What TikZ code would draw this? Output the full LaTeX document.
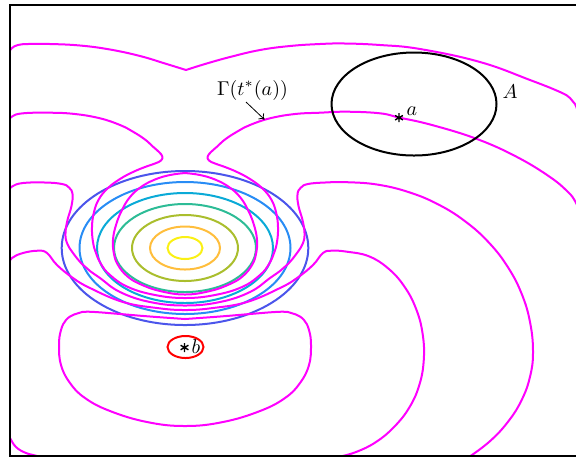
\documentclass[tikz,border=0pt]{standalone}
\usetikzlibrary{arrows.meta}
\definecolor{cyel}{RGB}{250,240,20}
\definecolor{cora}{RGB}{255,190,60}
\definecolor{coli}{RGB}{170,190,45}
\definecolor{ctea}{RGB}{45,188,150}
\definecolor{ccya}{RGB}{10,170,215}
\definecolor{cdod}{RGB}{40,140,245}
\definecolor{cind}{RGB}{75,85,235}
\definecolor{cmag}{RGB}{255,0,255}
\tikzset{
  front/.style={draw=cmag, line width=1pt, line join=round},
  lev/.style={line width=1pt},
  sm/.style={smooth, tension=0.7},
}
\newcommand{\starat}[1]{%
  \draw[line width=0.7pt] ([shift={(0,-4.5)}]#1) -- ([shift={(0,4.5)}]#1)
    ([shift={(3.9,2.25)}]#1) -- ([shift={(-3.9,-2.25)}]#1)
    ([shift={(-3.9,2.25)}]#1) -- ([shift={(3.9,-2.25)}]#1);}
\begin{document}
\begin{tikzpicture}[x=0.5pt,y=-0.5pt]
\useasboundingbox (0,0) rectangle (576,457);
\begin{scope}
\clip (10,5) rectangle (576,456);
% level ellipses
\draw[lev,cind] (185,248) ellipse [x radius=123.3, y radius=77];
\draw[lev,cdod] (185,248) ellipse [x radius=105.5, y radius=66];
\draw[lev,ccya] (185,248) ellipse [x radius=88, y radius=55];
\draw[lev,ctea] (185,248) ellipse [x radius=71, y radius=44];
\draw[lev,coli] (185,248) ellipse [x radius=53, y radius=33];
\draw[lev,cora] (185,248) ellipse [x radius=35, y radius=21.5];
\draw[lev,cyel] (185,248) ellipse [x radius=17.5, y radius=11];
% fronts
\draw[front] plot[sm] coordinates {(8,53) (12,48) (18,45) (28,44) (50,44) (80,45.5) (110,49.5) (140,56) (165,63.5) (186,70)};
\draw[front] plot[sm] coordinates {(186,70) (205,64) (230,57) (260,50) (290,46) (320,44) (345,43.5) (380,45) (420,49) (480,62) (530,80) (560,92) (570,98) (575,104) (578,112)};
\draw[front] plot[sm] coordinates {(185,173) (200,175) (215,179.5) (229,187) (240,197) (248,210) (254,225) (257,240) (256,254) (252,265) (243,276) (230,284) (210,291) (185,294.5) (160,291) (140,284) (127,276) (118,265) (114,254) (113,240) (116,225) (122,210) (130,197) (141,187) (155,179.5) (170,175) (185,173)};
\draw[front] plot[sm] coordinates {(8,122) (12,116.5) (23,113.3) (50,112.7) (75,114) (100,118.3) (120,125) (133,131.7) (145,139.5) (153,146.7) (159,152) (162.3,156.5) (161,160.5) (155,163.5) (145,167) (133,172) (120,179) (108,188) (99,199) (94,212) (92,227) (93,242) (96,253) (101,264) (110,275) (128,287) (155,295) (185,298) (215,295) (242,287) (260,275) (269,264) (274,253) (277,242) (278,227) (276,212) (271,199) (262,188) (250,179) (237,172) (225,167) (215,163.5) (209,160.5) (207.7,156.5) (211,152) (217,146.7) (225,139.5) (237,131.7) (250,125) (270,118.3) (295,114) (320,112.7) (347,111.7) (380,113.3) (399,117.5) (432,125) (477,139) (517,157) (550,177) (568,192) (575,201) (579,210)};
\draw[front] plot[sm] coordinates {(8,192) (12,186.5) (23,183) (45,182.5) (62,184) (69,187.5) (72.5,194) (71.5,206) (67.5,220) (65.5,233) (67,243) (73,253) (82,264) (90,271) (100,278) (120,292) (150,302) (185,305.5) (220,302) (250,292) (270,278) (280,271) (288,264) (297,253) (303,243) (304.5,233) (302.5,220) (298.5,206) (297.5,194) (301,187.5) (308,184) (325,182.5) (347,182.2) (377.6,184.6) (409.3,192.3) (439,204.8) (465.8,221.8) (489,242.7) (507.8,267) (521.7,293.9) (530.1,322.5) (533,352) (530.1,376.3) (521.7,399.9) (507.8,422) (489,442) (465.8,459.2)};
\draw[front] plot[sm] coordinates {(8,265) (12,258) (23,253) (38,250.7) (47,253) (57,265) (73,278) (90,288) (123,302) (157,308) (185,310) (213,308) (247,302) (280,288) (297,278) (313,265) (323,253) (332,250.7) (347,251.7) (368.7,256.2) (388.2,268.4) (404.3,286.4) (416.1,308.9) (422.7,334.3) (423.7,360.9) (419,386) (409,408) (394,427) (376,442) (356,452) (336.7,457.5) (325,461)};
\draw[front] plot[sm] coordinates {(5,430) (10,438) (16,447) (26,453) (37,456) (45,460)};
\draw[front] plot[sm] coordinates {(185,319) (150,316.5) (120,314) (95,312) (82,312) (74,314.5) (66,320) (61,330) (59,345) (61,365) (70,383) (85,398) (110,411) (147,422) (185,426) (223,422) (260,411) (285,398) (300,383) (309,365) (311,345) (309,330) (304,320) (296,314.5) (288,312) (275,312) (250,314) (220,316.5) (185,319)};
% red front around b
\draw[line width=1pt, red] (185.5,347) ellipse [x radius=18, y radius=11];
% set A
\draw[line width=1pt, black] (414,104) ellipse [x radius=82.5, y radius=51.5];
\end{scope}
\draw[line width=0.8pt] (10,5) rectangle (590,456);
% labels and markers
\coordinate (sa) at (399,117.7);
\coordinate (sb) at (184.5,347.5);
\starat{sa}
\starat{sb}
\node (la) at (412,111.5) {$a$};
\node (lA) at (510,92) {$A$};
\node (lb) at (196,346.5) {$b$};
\node (lg) at (252.5,90) {$\Gamma(t^{*}(a))$};
\coordinate (gs) at (246,102);
\coordinate (gt) at (264.5,119.5);
\draw[line width=0.4pt, -{To[length=2.5pt,width=4pt]}] (gs) -- (gt);
\end{tikzpicture}
\end{document}
